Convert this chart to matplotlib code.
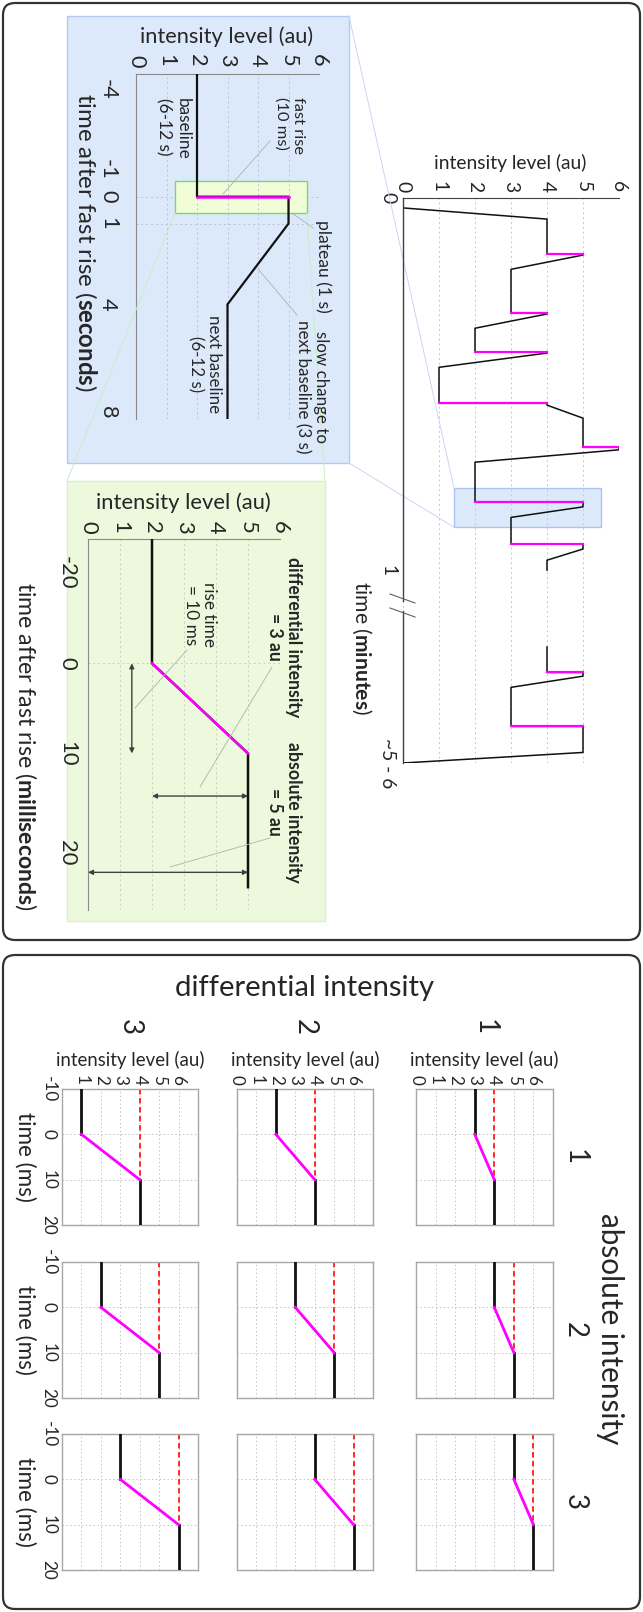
import numpy as np
import matplotlib
matplotlib.use('Agg')
import matplotlib.pyplot as plt
from matplotlib.patches import Rectangle, FancyBboxPatch
from matplotlib.lines import Line2D

# ------------------------------------------------------------------ data
intensity_ticks = [0, 1, 2, 3, 4, 5, 6]

# overview trace (time on drawn scale in s, break after 60 s) / intensity (au)
main_t1 = [1.6, 3.4, 9.0, 9.0, 9.2, 11.5, 18.5, 18.5, 18.7, 21.0, 24.8, 24.8, 25.0,
           27.3, 33.1, 33.1, 33.4, 35.5, 40.2, 40.2, 40.6, 42.6, 49.0, 49.0, 49.8,
           51.5, 55.8, 55.8, 56.6, 58.4, 60.0]
main_i1 = [0, 4, 4, 5, 5, 3, 3, 4, 4, 2, 2, 4, 4,
           1, 1, 4, 4, 5, 5, 6, 6, 2, 2, 5, 5,
           3, 3, 5, 5, 4, 4]
main_t2 = [72.4, 76.5, 76.5, 77.1, 78.9, 85.2, 85.2, 89.4, 91.1]
main_i2 = [4, 4, 5, 5, 3, 3, 5, 5, 0]
rise_t = [9.0, 18.5, 24.8, 33.1, 40.2, 49.0, 55.8, 76.5, 85.2]
rise_from = [4, 3, 2, 1, 5, 2, 3, 4, 3]
rise_to = [5, 4, 4, 4, 6, 5, 5, 5, 5]
main_tmax = 91.1
main_time_ticks = [0, 60, 91.1]
main_time_labels = ['0', '1', '~5 - 6']
main_zoom_box = (1.42, 5.5, 46.8, 53.1)   # intensity lo/hi, time lo/hi

# zoom in seconds
sec_t = [-4.56, 0, 0, 1, 4, 8.26]
sec_i = [2, 2, 5, 5, 3, 3]
sec_rise_t = [0, 0]
sec_rise_i = [2, 5]
sec_ticks = [-4, -1, 0, 1, 4, 8]
sec_lim = (8.26, -4.56)
sec_zoom_box = (1.28, 5.6, -0.6, 0.6)

# zoom in milliseconds
ms_t = [-27.6, 0, 10, 23.5]
ms_i = [2, 2, 5, 5]
ms_rise_t = [0, 10]
ms_rise_i = [2, 5]
ms_ticks = [-20, 0, 10, 20]
ms_lim = (25.8, -27.6)

# grid of examples
diff_levels = [3, 2, 1]          # columns, left -> right
abs_levels = [4, 5, 6]           # rows, top -> bottom
diff_labels = ['3', '2', '1']
abs_labels = ['1', '2', '3']
grid_pre_t = [-10, 0]
grid_rise_t = [0, 10]
grid_post_t = [10, 20]
grid_ref_t = [-10, 10]
grid_time_ticks = [-10, 0, 10, 20]

# ------------------------------------------------------------------ style
W, H, DPI = 643, 1612, 100
TXT = '#262626'
MAG = '#ff00ff'
plt.rcParams['font.family'] = ['Lato', 'DejaVu Sans']
plt.rcParams['mathtext.fontset'] = 'custom'
plt.rcParams['mathtext.rm'] = 'Lato'
plt.rcParams['mathtext.bf'] = 'Lato:bold'
plt.rcParams['axes.unicode_minus'] = False
plt.rcParams['text.color'] = TXT
plt.rcParams['xtick.color'] = TXT
plt.rcParams['ytick.color'] = TXT

fig = plt.figure(figsize=(W / DPI, H / DPI), dpi=DPI)
fig.patch.set_facecolor('white')


def fx(x):
    return x / W


def fy(y):
    return 1 - y / H


def add_ax(x0, y0, x1, y1):
    ax = fig.add_axes([x0 / W, 1 - y1 / H, (x1 - x0) / W, (y1 - y0) / H])
    ax.set_facecolor('none')
    return ax


def fline(x0, y0, x1, y1, **kw):
    fig.add_artist(Line2D([fx(x0), fx(x1)], [fy(y0), fy(y1)],
                          transform=fig.transFigure, **kw))


def frect(x0, y0, x1, y1, **kw):
    fig.add_artist(Rectangle((fx(x0), fy(y1)), (x1 - x0) / W, (y1 - y0) / H,
                             transform=fig.transFigure, **kw))


def fround(x0, y0, x1, y1, **kw):
    fig.add_artist(FancyBboxPatch((x0 / DPI, (H - y1) / DPI), (x1 - x0) / DPI, (y1 - y0) / DPI,
                                  boxstyle='round,pad=0,rounding_size=0.12',
                                  transform=fig.dpi_scale_trans, **kw))


to_fit = []


def ftext(x, y, s, length=None, rot=0, ha='center', va='center', **kw):
    t = fig.text(fx(x), fy(y), s, rotation=rot, ha=ha, va=va, **kw)
    if length:
        to_fit.append((t, length, rot != 0))
    return t


def to_px(ax, x, y):
    dx, dy = ax.transData.transform((x, y))
    return dx, H - dy


# ------------------------------------------------------------------ frames & panels
fround(3, 3, 640, 940, facecolor='white', edgecolor='#333333', lw=1.6, zorder=-10)
fround(3, 955, 640, 1609, facecolor='white', edgecolor='#333333', lw=1.6, zorder=-10)
frect(67, 16, 349, 463, facecolor='#dce9fb', edgecolor='#b3cbf2', lw=1, zorder=-5)
frect(67, 481, 325, 921, facecolor='#ecf9dd', edgecolor='#dcefc8', lw=1, zorder=-5)

# ------------------------------------------------------------------ overview
axm = add_ax(403, 198, 619, 763)
axm.set_xlim(0, 6)
axm.set_ylim(main_tmax, 0)
axm.add_patch(Rectangle((main_zoom_box[0], main_zoom_box[2]),
                        main_zoom_box[1] - main_zoom_box[0], main_zoom_box[3] - main_zoom_box[2],
                        facecolor='#dce9fb', edgecolor='#aac4f3', lw=1, zorder=1))
axm.plot(main_i1, main_t1, color='#111111', lw=1.1, zorder=3)
axm.plot(main_i2, main_t2, color='#111111', lw=1.1, zorder=3)
for t, a, b in zip(rise_t, rise_from, rise_to):
    axm.plot([a, b], [t, t], color=MAG, lw=1.6, zorder=4)
axm.set_xticks(intensity_ticks)
axm.xaxis.tick_top()
axm.grid(axis='x', ls=(0, (2, 3)), color='#c8c8c8', lw=0.7)
axm.set_yticks(main_time_ticks, main_time_labels)
for s in ['right', 'bottom', 'left']:
    axm.spines[s].set_visible(False)
axm.spines['top'].set_color('#404040')
axm.tick_params(axis='x', length=0, pad=4, labelrotation=-90)
axm.tick_params(axis='y', length=0, pad=5, labelrotation=-90)
for lb in axm.get_yticklabels():
    lb.set_va('center')
# time axis line with break
fline(403, 198, 403, 601, color='#404040', lw=1)
fline(403, 611, 403, 763, color='#404040', lw=1)
fline(390, 594, 415, 603, color='#606060', lw=0.8)
fline(390, 608, 415, 617, color='#606060', lw=0.8)
lab_main = ftext(510, 163, 'intensity level (au)', length=153)
ftext(362, 648, r'time ($\mathbf{minutes}$)', length=135, rot=-90)

# ------------------------------------------------------------------ zoom seconds
axb = add_ax(136, 74, 319, 419)
axb.set_xlim(0, 6)
axb.set_ylim(*sec_lim)
axb.add_patch(Rectangle((sec_zoom_box[0], sec_zoom_box[2]),
                        sec_zoom_box[1] - sec_zoom_box[0], sec_zoom_box[3] - sec_zoom_box[2],
                        facecolor='#f1fdd6', edgecolor='#6fdc6f', lw=1, zorder=1))
axb.plot(sec_i, sec_t, color='#111111', lw=1.6, zorder=3)
axb.plot(sec_rise_i, sec_rise_t, color=MAG, lw=1.8, zorder=4)
axb.set_xticks(intensity_ticks)
axb.xaxis.tick_top()
axb.grid(axis='x', ls=(0, (2, 3)), color='#b8c4d4', lw=0.7)
for v in [0, 1]:
    axb.axhline(v, ls=(0, (2, 3)), color='#b8c4d4', lw=0.7, zorder=0.5)
axb.set_yticks(sec_ticks)
for s in ['right', 'bottom']:
    axb.spines[s].set_visible(False)
for s in ['top', 'left']:
    axb.spines[s].set_color('#8a8a8a')
axb.tick_params(axis='x', length=0, pad=5, labelrotation=-90)
axb.tick_params(axis='y', length=0, pad=13, labelrotation=-90)
for lb in axb.get_yticklabels():
    lb.set_va('center')
lab_sec = ftext(227, 37, 'intensity level (au)', length=173)
ftext(86, 242, r'time after fast rise ($\mathbf{seconds}$)', length=300, rot=-90)
ftext(290, 97, 'fast rise\n(10 ms)', length=57, rot=-90, va='top', multialignment='left')
ftext(173, 98, 'baseline\n(6-12 s)', length=62, rot=-90, va='top', multialignment='left')
ftext(323, 266, 'plateau (1 s)', length=93, rot=-90)
ftext(312, 387, 'slow change to\nnext baseline (3 s)', length=133, rot=-90, multialignment='center')
ftext(205, 364, 'next baseline\n(6-12 s)', length=98, rot=-90, multialignment='center')
LEAD = dict(color='#b0b0b0', lw=0.6)
fline(270, 141, 223, 194, **LEAD)
fline(313, 228, 292, 213, **LEAD)
fline(297, 315, 258, 269, **LEAD)

# ------------------------------------------------------------------ zoom milliseconds
K = np.array(ms_ticks, float)
P = np.array([-10.0, 0.0, 10.0, 21.0])


def _pw(v, a, b):
    v = np.asarray(v, dtype=float)
    out = np.interp(v, a, b)
    s0 = (b[1] - b[0]) / (a[1] - a[0])
    s1 = (b[-1] - b[-2]) / (a[-1] - a[-2])
    out = np.where(v < a[0], b[0] + (v - a[0]) * s0, out)
    out = np.where(v > a[-1], b[-1] + (v - a[-1]) * s1, out)
    return out


axg = add_ax(88, 539, 280, 910)
axg.set_yscale('function', functions=(lambda v: _pw(v, K, P), lambda u: _pw(u, P, K)))
axg.set_xlim(0, 6)
axg.set_ylim(*ms_lim)
axg.plot(ms_i, ms_t, color='#111111', lw=1.8, zorder=3)
axg.plot(ms_rise_i, ms_rise_t, color=MAG, lw=1.8, zorder=4)
axg.set_xticks(intensity_ticks)
axg.xaxis.tick_top()
axg.grid(axis='x', ls=(0, (2, 3)), color='#c6d2bc', lw=0.7)
axg.axhline(0, ls=(0, (2, 3)), color='#c6d2bc', lw=0.7, zorder=0.5)
axg.set_yticks(ms_ticks)
axg.yaxis.set_minor_locator(matplotlib.ticker.NullLocator())
for s in ['right', 'bottom']:
    axg.spines[s].set_visible(False)
for s in ['top', 'left']:
    axg.spines[s].set_color('#8a8a8a')
axg.tick_params(axis='x', length=0, pad=4, labelrotation=-90)
axg.tick_params(axis='y', length=0, pad=8, labelrotation=-90)
for lb in axg.get_yticklabels():
    lb.set_va('center')
ARW = dict(arrowstyle='<|-|>', color='#404040', lw=1.0, mutation_scale=7, shrinkA=0, shrinkB=0)
axg.annotate('', xy=(1.37, 10), xytext=(1.37, 0), arrowprops=ARW)
axg.annotate('', xy=(ms_i[-1], 14.3), xytext=(ms_i[0], 14.3), arrowprops=ARW)
axg.annotate('', xy=(ms_i[-1], 22.0), xytext=(0, 22.0), arrowprops=ARW)
lab_ms = ftext(183, 503, 'intensity level (au)', length=175)
ftext(26, 746, r'time after fast rise ($\mathbf{milliseconds}$)', length=330, rot=-90)
ftext(284, 637, 'differential intensity\n= 3 au', length=160, rot=-90, fontweight='bold',
      multialignment='center')
ftext(284, 812, 'absolute intensity\n= 5 au', length=140, rot=-90, fontweight='bold',
      multialignment='center')
ftext(200, 615, 'rise time\n= 10 ms', length=65, rot=-90, multialignment='center')
fline(187, 650, 135, 708, **LEAD)
fline(272, 667, 200, 787, **LEAD)
fline(270, 838, 170, 867, **LEAD)

# ------------------------------------------------------------------ connection lines
bx0, by0 = to_px(axm, main_zoom_box[0], main_zoom_box[2])
bx1, by1 = to_px(axm, main_zoom_box[0], main_zoom_box[3])
fline(349, 16, bx0, by0, color='#c9d7f4', lw=0.7, zorder=1)
fline(349, 463, bx1, by1, color='#c9d7f4', lw=0.7, zorder=1)
gx0, gy0 = to_px(axb, sec_zoom_box[0], sec_zoom_box[3])
gx1, gy1 = to_px(axb, sec_zoom_box[1], sec_zoom_box[3])
fline(gx0, gy0, 67, 481, color='#c8eec0', lw=0.7, zorder=1)
fline(gx1, gy1, 325, 481, color='#c8eec0', lw=0.7, zorder=1)

# ------------------------------------------------------------------ grid of examples
col_x = [(62, 198), (237, 373), (416, 553)]
row_y = [(1089, 1225), (1262, 1398), (1434, 1570)]
grid_axes = []
for r, A in enumerate(abs_levels):
    for c, D in enumerate(diff_levels):
        x0, x1 = col_x[c]
        y0, y1 = row_y[r]
        ax = add_ax(x0, y0, x1, y1)
        grid_axes.append(ax)
        B = A - D
        ax.set_xlim(0, 7)
        ax.set_ylim(20, -10)
        ax.plot([A, A], grid_ref_t, color='#ff1a1a', lw=1.3, ls=(0, (3, 2)), zorder=2)
        ax.plot([B, B], grid_pre_t, color='#111111', lw=2.0, zorder=3)
        ax.plot([B, A], grid_rise_t, color=MAG, lw=2.0, zorder=4)
        ax.plot([A, A], grid_post_t, color='#111111', lw=2.0, zorder=3)
        ax.set_xticks(intensity_ticks)
        ax.set_yticks(grid_time_ticks)
        ax.xaxis.tick_top()
        ax.grid(True, ls=(0, (1.5, 2.5)), color='#c4c4c4', lw=0.7)
        for s in ax.spines.values():
            s.set_color('#a8a8a8')
            s.set_linewidth(1.0)
        ax.tick_params(axis='x', length=0, pad=3, labelrotation=-90)
        ax.tick_params(axis='y', length=0, pad=4, labelrotation=-90)
        for lb in ax.get_yticklabels():
            lb.set_va('center')
        if r == 0:
            if c == 0:
                ax.set_xticks(intensity_ticks, [''] + [str(v) for v in intensity_ticks[1:]])
            ftext((x0 + x1) / 2, 1060, 'intensity level (au)', length=148)
            ftext((x0 + x1) / 2, 1027, diff_labels[c], rot=-90, fontsize=20)
        else:
            ax.set_xticklabels([])
        if c == 0:
            ftext(25, (y0 + y1) / 2, 'time (ms)', length=90, rot=-90)
        else:
            ax.set_yticklabels([])
        if c == 2:
            ftext(575, (y0 + y1) / 2, abs_labels[r], rot=-90, fontsize=20)

lab_grid = ftext(305, 988, 'differential intensity', length=260)
ftext(610, 1329, 'absolute intensity', length=232, rot=-90)

# ------------------------------------------------------------------ fit text sizes
renderer = fig.canvas.get_renderer()
for t, L, vert in to_fit:
    bb = t.get_window_extent(renderer)
    m = bb.height if vert else bb.width
    t.set_fontsize(t.get_fontsize() * L / m)

for ax, lab in [(axm, lab_main), (axb, lab_sec), (axg, lab_ms)]:
    ax.tick_params(labelsize=lab.get_fontsize())
grid_fs = [t for t, L, v in to_fit if L == 148][0].get_fontsize()
for ax in grid_axes:
    ax.tick_params(labelsize=grid_fs * 0.92)

fig.savefig('out.png', dpi=DPI)
